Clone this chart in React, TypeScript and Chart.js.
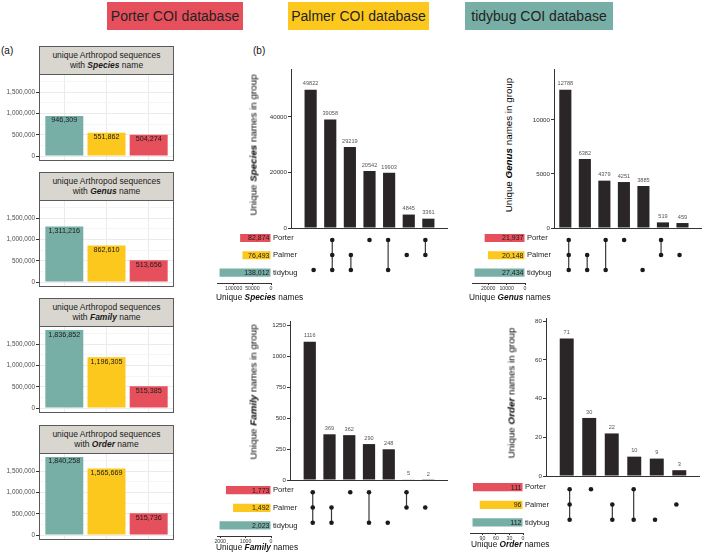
import React, { useEffect, useRef } from 'react';
import { Chart, registerables } from 'chart.js';

Chart.register(...registerables);

const FONT = '"Liberation Sans", Arial, Helvetica, sans-serif';

// ---------------- data ----------------
const LEGEND_LABELS = ['Porter COI database', 'Palmer COI database', 'tidybug COI database'];
const LEGEND_DBS = ['Porter', 'Palmer', 'tidybug'];

// panel (a): bars ordered tidybug, Palmer, Porter
const SEQ_DBS = ['tidybug', 'Palmer', 'Porter'];
const SEQ_SPECIES = [946309, 551862, 504274];
const SEQ_GENUS = [1311216, 862610, 513656];
const SEQ_FAMILY = [1836852, 1196305, 515385];
const SEQ_ORDER = [1840258, 1565669, 515736];
const SEQ_TICKS = [0, 500000, 1000000, 1500000];
const SEQ_MINOR_TICKS = [250000, 750000, 1250000, 1750000];
const SEQ_RANKS = ['Species', 'Genus', 'Family', 'Order'];

// panel (b): UpSet plots
const SET_NAMES = ['Porter', 'Palmer', 'tidybug'];

const SPECIES_INTERSECTIONS = [49822, 39058, 29219, 20542, 19903, 4845, 3361];
const SPECIES_MEMBERS = [
  ['tidybug'],
  ['Porter', 'Palmer', 'tidybug'],
  ['Palmer', 'tidybug'],
  ['Porter'],
  ['Porter', 'tidybug'],
  ['Palmer'],
  ['Porter', 'Palmer'],
];
const SPECIES_SET_SIZES = [82874, 76493, 138012];
const SPECIES_BAR_TICKS = [0, 20000, 40000];
const SPECIES_SIZE_TICKS = [0, 50000, 100000];

const GENUS_INTERSECTIONS = [12788, 6382, 4379, 4251, 3885, 519, 459];
const GENUS_MEMBERS = [
  ['Porter', 'Palmer', 'tidybug'],
  ['Palmer', 'tidybug'],
  ['Porter', 'tidybug'],
  ['Porter'],
  ['tidybug'],
  ['Porter', 'Palmer'],
  ['Palmer'],
];
const GENUS_SET_SIZES = [21937, 20148, 27434];
const GENUS_BAR_TICKS = [0, 5000, 10000];
const GENUS_SIZE_TICKS = [0, 10000, 20000];

const FAMILY_INTERSECTIONS = [1116, 369, 362, 290, 248, 5, 2];
const FAMILY_MEMBERS = [
  ['Porter', 'Palmer', 'tidybug'],
  ['Palmer', 'tidybug'],
  ['Porter'],
  ['Porter', 'tidybug'],
  ['tidybug'],
  ['Porter', 'Palmer'],
  ['Palmer'],
];
const FAMILY_SET_SIZES = [1773, 1492, 2023];
const FAMILY_BAR_TICKS = [0, 250, 500, 750, 1000, 1250];
const FAMILY_SIZE_TICKS = [0, 1000, 2000];

const ORDER_INTERSECTIONS = [71, 30, 22, 10, 9, 3];
const ORDER_MEMBERS = [
  ['Porter', 'Palmer', 'tidybug'],
  ['Porter'],
  ['Palmer', 'tidybug'],
  ['Porter', 'tidybug'],
  ['tidybug'],
  ['Palmer'],
];
const ORDER_SET_SIZES = [111, 96, 112];
const ORDER_BAR_TICKS = [0, 20, 40, 60, 80];
const ORDER_SIZE_TICKS = [0, 30, 60, 90];

// ---------------- styles ----------------
const DB_COLORS: Record<string, string> = {
  Porter: '#E6505C',
  Palmer: '#FDC81E',
  tidybug: '#77AFA7',
};
const BAR_DARK = '#2A2526';
const STRIP_BG = '#D9D6D0';

const fmt = (v: number) => v.toLocaleString('en-US');

// ---------------- layout ----------------
const PANEL_A = { left: 39, right: 174, headerTops: [46, 172, 298, 425], headerH: 29, plotH: 86, yAxisW: 39 };

const UPSET_LAYOUT = [
  { barLeft: 291, barRight: 448, barTop: 69, barBottom: 228, xMin: -1, xMax: 7, matTop: 227, matBottom: 283, sizeLeft: 217, sizeRight: 271, titleX: 253, titleY: 145, sizeTitleLeft: 216, sizeTitleY: 297 },
  { barLeft: 554, barRight: 702, barTop: 69, barBottom: 228, xMin: -0.58, xMax: 7, matTop: 227, matBottom: 283, sizeLeft: 472, sizeRight: 525, titleX: 508, titleY: 145, sizeTitleLeft: 469, sizeTitleY: 297 },
  { barLeft: 290, barRight: 448, barTop: 321, barBottom: 480, xMin: -1, xMax: 7, matTop: 479, matBottom: 536, sizeLeft: 217, sizeRight: 271, titleX: 253, titleY: 392, sizeTitleLeft: 216, sizeTitleY: 547 },
  { barLeft: 546, barRight: 700, barTop: 318, barBottom: 476, xMin: -0.92, xMax: 5.92, matTop: 476, matBottom: 533, sizeLeft: 470, sizeRight: 523, titleX: 511, titleY: 393, sizeTitleLeft: 471, sizeTitleY: 544 },
];

const UPSETS = [
  { rank: 'Species', values: SPECIES_INTERSECTIONS, members: SPECIES_MEMBERS, sizes: SPECIES_SET_SIZES, barTicks: SPECIES_BAR_TICKS, sizeTicks: SPECIES_SIZE_TICKS },
  { rank: 'Genus', values: GENUS_INTERSECTIONS, members: GENUS_MEMBERS, sizes: GENUS_SET_SIZES, barTicks: GENUS_BAR_TICKS, sizeTicks: GENUS_SIZE_TICKS },
  { rank: 'Family', values: FAMILY_INTERSECTIONS, members: FAMILY_MEMBERS, sizes: FAMILY_SET_SIZES, barTicks: FAMILY_BAR_TICKS, sizeTicks: FAMILY_SIZE_TICKS },
  { rank: 'Order', values: ORDER_INTERSECTIONS, members: ORDER_MEMBERS, sizes: ORDER_SET_SIZES, barTicks: ORDER_BAR_TICKS, sizeTicks: ORDER_SIZE_TICKS },
];

// ---------------- plugins ----------------
const panelBorder = {
  id: 'panelBorder',
  afterDraw(chart: any) {
    const { ctx, chartArea: a } = chart;
    ctx.save();
    ctx.strokeStyle = '#5a5a5a';
    ctx.lineWidth = 1;
    ctx.strokeRect(a.left + 0.5, a.top + 0.5, a.right - a.left - 1, a.bottom - a.top);
    ctx.restore();
  },
};

const seqLabels = {
  id: 'seqLabels',
  afterDatasetsDraw(chart: any) {
    const { ctx } = chart;
    const meta = chart.getDatasetMeta(0);
    ctx.save();
    ctx.font = `7.2px ${FONT}`;
    ctx.fillStyle = '#1a1a1a';
    ctx.textAlign = 'center';
    ctx.textBaseline = 'middle';
    meta.data.forEach((el: any, i: number) => {
      ctx.fillText(fmt(chart.data.datasets[0].data[i].y), el.x, el.y + 4.5);
    });
    ctx.restore();
  },
};

const topLabels = {
  id: 'topLabels',
  afterDatasetsDraw(chart: any) {
    const { ctx } = chart;
    const meta = chart.getDatasetMeta(0);
    ctx.save();
    ctx.font = `5.6px ${FONT}`;
    ctx.fillStyle = '#555';
    ctx.textAlign = 'center';
    ctx.textBaseline = 'bottom';
    meta.data.forEach((el: any, i: number) => {
      ctx.fillText(String(chart.data.datasets[0].data[i].y), el.x, el.y - 3);
    });
    ctx.restore();
  },
};

const sizeLabels = {
  id: 'sizeLabels',
  afterDatasetsDraw(chart: any) {
    const { ctx } = chart;
    const meta = chart.getDatasetMeta(0);
    ctx.save();
    ctx.font = `7px ${FONT}`;
    ctx.fillStyle = '#1a1a1a';
    ctx.textAlign = 'right';
    ctx.textBaseline = 'middle';
    meta.data.forEach((el: any, i: number) => {
      ctx.fillText(fmt(chart.data.datasets[0].data[i].x), el.base - 1, el.y + 0.5);
    });
    ctx.restore();
  },
};

// ---------------- generic canvas ----------------
function ChartCanvas({ left, top, width, height, make }: { left: number; top: number; width: number; height: number; make: (c: HTMLCanvasElement) => Chart }) {
  const ref = useRef<HTMLCanvasElement>(null);
  useEffect(() => {
    const chart = make(ref.current as HTMLCanvasElement);
    return () => chart.destroy();
  }, []);
  return (
    <canvas
      ref={ref}
      width={width}
      height={height}
      style={{ position: 'absolute', left, top, width, height, display: 'block' }}
    />
  );
}

const baseOpts = {
  animation: false as const,
  responsive: false,
  maintainAspectRatio: false,
  plugins: { legend: { display: false }, tooltip: { enabled: false }, title: { display: false } },
};

// ---------------- panel (a) ----------------
const SEQ_VALUES = [SEQ_SPECIES, SEQ_GENUS, SEQ_FAMILY, SEQ_ORDER];
const SEQ_MAX_DATA = 1840258;

function SeqPanel({ idx }: { idx: number }) {
  const values = SEQ_VALUES[idx];
  const rank = SEQ_RANKS[idx];
  const headerTop = PANEL_A.headerTops[idx];
  const plotTop = headerTop + PANEL_A.headerH - 1;
  const padT = 5;
  const padB = 5;
  const padR = 2;
  const width = PANEL_A.right + padR;
  const height = padT + PANEL_A.plotH + padB;
  const yMin = -0.05 * SEQ_MAX_DATA;
  const yMax = 1.05 * SEQ_MAX_DATA;
  const grid = [...SEQ_TICKS, ...SEQ_MINOR_TICKS].sort((a, b) => a - b);

  const make = (c: HTMLCanvasElement) =>
    new Chart(c, {
      type: 'bar',
      data: {
        datasets: [
          {
            data: values.map((v, i) => ({ x: i, y: v })),
            backgroundColor: SEQ_DBS.map((d) => DB_COLORS[d]),
            barPercentage: 0.9,
            categoryPercentage: 1,
          } as any,
        ],
      },
      options: {
        ...baseOpts,
        layout: { padding: { top: padT, bottom: padB, right: padR, left: 0 } },
        scales: {
          x: {
            type: 'linear',
            offset: false,
            min: -0.6,
            max: 2.6,
            afterBuildTicks: (s: any) => {
              s.ticks = values.map((_, i) => ({ value: i }));
            },
            ticks: { display: false },
            grid: { color: '#EBEBEB', drawTicks: false, lineWidth: 1, offset: false },
            border: { display: false },
            afterFit: (s: any) => {
              s.height = 0;
            },
          },
          y: {
            type: 'linear',
            min: yMin,
            max: yMax,
            afterBuildTicks: (s: any) => {
              s.ticks = grid.map((v) => ({ value: v }));
            },
            ticks: {
              autoSkip: false,
              padding: 1,
              color: '#4D4D4D',
              font: { size: 6.4, family: FONT },
              callback: (v: any) => (SEQ_TICKS.includes(v) ? fmt(v) : ''),
            },
            grid: {
              color: (ctx: any) => (ctx.tick && SEQ_TICKS.includes(ctx.tick.value) ? '#EBEBEB' : '#F5F5F5'),
              tickColor: (ctx: any) => (ctx.tick && SEQ_TICKS.includes(ctx.tick.value) ? '#333' : 'rgba(0,0,0,0)'),
              tickLength: 3,
            },
            border: { display: false },
            afterFit: (s: any) => {
              s.width = PANEL_A.yAxisW;
            },
          },
        },
      } as any,
      plugins: [panelBorder, seqLabels],
    });

  return (
    <>
      <div
        style={{
          position: 'absolute',
          left: PANEL_A.left,
          top: headerTop,
          width: PANEL_A.right - PANEL_A.left,
          height: PANEL_A.headerH,
          boxSizing: 'border-box',
          border: '1px solid #5a5a5a',
          background: STRIP_BG,
          display: 'flex',
          flexDirection: 'column',
          justifyContent: 'center',
          alignItems: 'center',
          fontFamily: FONT,
          fontSize: 8.5,
          lineHeight: '9.4px',
          color: '#1a1a1a',
          textAlign: 'center',
        }}
      >
        <div>unique Arthropod sequences</div>
        <div>
          with <b><i>{rank}</i></b> name
        </div>
      </div>
      <ChartCanvas left={0} top={plotTop - padT} width={width} height={height} make={make} />
    </>
  );
}

// ---------------- panel (b) ----------------
function UpsetPanel({ idx }: { idx: number }) {
  const u = UPSETS[idx];
  const g = UPSET_LAYOUT[idx];
  const yW = 40;
  const padT = 8;
  const padB = 6;
  const padR = 4;
  const barW = g.barRight - g.barLeft;
  const barH = g.barBottom - g.barTop;
  const yMax = Math.max(...u.values) * 1.15;

  const makeBars = (c: HTMLCanvasElement) =>
    new Chart(c, {
      type: 'bar',
      data: {
        datasets: [
          {
            data: u.values.map((v, i) => ({ x: i, y: v })),
            backgroundColor: BAR_DARK,
            barPercentage: 0.62,
            categoryPercentage: 1,
          } as any,
        ],
      },
      options: {
        ...baseOpts,
        layout: { padding: { top: padT, bottom: padB, right: padR, left: 0 } },
        scales: {
          x: {
            type: 'linear',
            display: false,
            offset: false,
            min: g.xMin,
            max: g.xMax,
            afterBuildTicks: (s: any) => {
              s.ticks = u.values.map((_, i) => ({ value: i }));
            },
          },
          y: {
            type: 'linear',
            min: 0,
            max: yMax,
            afterBuildTicks: (s: any) => {
              s.ticks = u.barTicks.map((v) => ({ value: v }));
            },
            ticks: {
              autoSkip: false,
              padding: 1,
              color: '#333',
              font: { size: 6.2, family: FONT },
              callback: (v: any) => String(v),
            },
            grid: {
              color: (ctx: any) => (ctx.tick && ctx.tick.value === 0 ? '#333' : 'rgba(0,0,0,0)'),
              tickColor: '#333',
              tickLength: 3,
            },
            border: { display: true, color: '#333', width: 1 },
            afterFit: (s: any) => {
              s.width = yW;
            },
          },
        },
      } as any,
      plugins: [topLabels],
    });

  const matH = g.matBottom - g.matTop;
  const makeMatrix = (c: HTMLCanvasElement) =>
    new Chart(c, {
      type: 'scatter',
      data: {
        datasets: u.members.map((m, col) => ({
          data: m.map((name) => ({ x: col, y: SET_NAMES.indexOf(name) })),
          showLine: m.length > 1,
          borderColor: '#3a3a3a',
          borderWidth: 1.2,
          pointRadius: 2.3,
          pointBackgroundColor: '#1a1a1a',
          pointBorderWidth: 0,
        })),
      },
      options: {
        ...baseOpts,
        layout: { padding: 0 },
        scales: {
          x: { type: 'linear', display: false, offset: false, min: g.xMin, max: g.xMax },
          y: { type: 'linear', display: false, offset: false, min: -0.6, max: 2.6, reverse: true },
        },
      } as any,
    });

  const sPadL = 14;
  const sPadT = 6;
  const sYW = 40;
  const sXH = 12;
  const sizeW = g.sizeRight - g.sizeLeft;
  const sizeMax = Math.max(...u.sizes) * 1.05;
  const makeSizes = (c: HTMLCanvasElement) =>
    new Chart(c, {
      type: 'bar',
      data: {
        datasets: [
          {
            data: u.sizes.map((v, i) => ({ x: v, y: i })),
            backgroundColor: SET_NAMES.map((n) => DB_COLORS[n]),
            barPercentage: 0.47,
            categoryPercentage: 1,
          } as any,
        ],
      },
      options: {
        ...baseOpts,
        indexAxis: 'y',
        layout: { padding: { left: sPadL, top: sPadT, right: 0, bottom: 0 } },
        scales: {
          x: {
            type: 'linear',
            reverse: true,
            offset: false,
            min: 0,
            max: sizeMax,
            position: 'bottom',
            afterBuildTicks: (s: any) => {
              s.ticks = u.sizeTicks.map((v) => ({ value: v }));
            },
            ticks: {
              autoSkip: false,
              maxRotation: 0,
              minRotation: 0,
              padding: 0,
              color: '#333',
              font: { size: 5.2, family: FONT },
              callback: (v: any) => String(v),
            },
            grid: { drawOnChartArea: false, tickLength: 2, tickColor: '#333', offset: false },
            border: { display: true, color: '#333', width: 1 },
            afterFit: (s: any) => {
              s.height = sXH;
            },
          },
          y: {
            type: 'linear',
            position: 'right',
            reverse: true,
            offset: false,
            min: -0.6,
            max: 2.6,
            afterBuildTicks: (s: any) => {
              s.ticks = [0, 1, 2].map((v) => ({ value: v }));
            },
            ticks: {
              autoSkip: false,
              padding: 2,
              color: '#1a1a1a',
              font: { size: 7.6, family: FONT },
              callback: (v: any) => SET_NAMES[v],
            },
            grid: { display: false, drawTicks: false, offset: false },
            border: { display: false },
            afterFit: (s: any) => {
              s.width = sYW;
            },
          },
        },
      } as any,
      plugins: [sizeLabels],
    });

  return (
    <>
      <ChartCanvas
        left={g.barLeft - yW}
        top={g.barTop - padT}
        width={yW + barW + padR}
        height={padT + barH + padB}
        make={makeBars}
      />
      <ChartCanvas left={g.barLeft} top={g.matTop} width={barW} height={matH} make={makeMatrix} />
      <ChartCanvas
        left={g.sizeLeft - sPadL}
        top={g.matTop - sPadT}
        width={sPadL + sizeW + sYW}
        height={sPadT + matH + sXH}
        make={makeSizes}
      />
      <div
        style={{
          position: 'absolute',
          left: g.titleX,
          top: g.titleY,
          transform: 'translate(-50%, -50%) rotate(-90deg)',
          whiteSpace: 'nowrap',
          fontFamily: FONT,
          fontSize: 9.8,
          lineHeight: '11px',
          color: '#000',
        }}
      >
        Unique <b><i>{u.rank}</i></b> names in group
      </div>
      <div
        style={{
          position: 'absolute',
          left: g.sizeTitleLeft,
          top: g.sizeTitleY - 5.5,
          whiteSpace: 'nowrap',
          fontFamily: FONT,
          fontSize: 8.3,
          lineHeight: '11px',
          color: '#111',
        }}
      >
        Unique <b><i>{u.rank}</i></b> names
      </div>
    </>
  );
}

// ---------------- legend ----------------
const LEGEND_BOXES = [
  { left: 107, width: 136 },
  { left: 288, width: 141 },
  { left: 465, width: 148 },
];

export default function App() {
  return (
    <div
      style={{
        position: 'fixed',
        left: 0,
        top: 0,
        width: 709,
        height: 553,
        background: '#ffffff',
        overflow: 'hidden',
        fontFamily: FONT,
      }}
    >
      {LEGEND_LABELS.map((label, i) => (
        <div
          key={label}
          style={{
            position: 'absolute',
            left: LEGEND_BOXES[i].left,
            top: 2,
            width: LEGEND_BOXES[i].width,
            height: 28,
            background: DB_COLORS[LEGEND_DBS[i]],
            display: 'flex',
            alignItems: 'center',
            justifyContent: 'center',
            fontSize: 14,
            color: '#222',
            whiteSpace: 'nowrap',
          }}
        >
          {label}
        </div>
      ))}
      <div style={{ position: 'absolute', left: 1, top: 45, fontSize: 10, lineHeight: '12px', color: '#111' }}>(a)</div>
      <div style={{ position: 'absolute', left: 253, top: 45, fontSize: 10, lineHeight: '12px', color: '#111' }}>(b)</div>
      {SEQ_RANKS.map((r, i) => (
        <SeqPanel key={r} idx={i} />
      ))}
      {UPSETS.map((u, i) => (
        <UpsetPanel key={u.rank} idx={i} />
      ))}
    </div>
  );
}
